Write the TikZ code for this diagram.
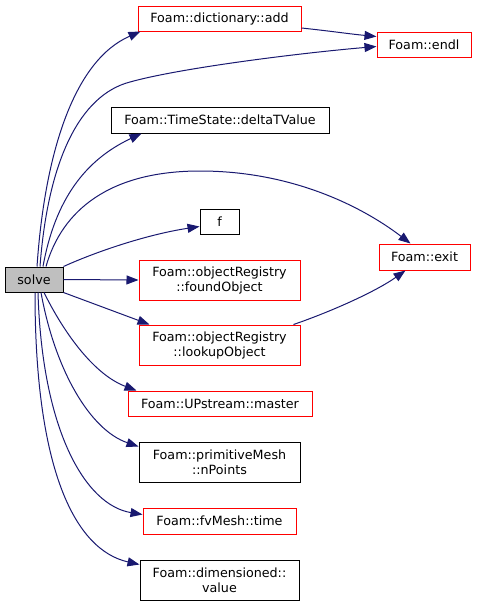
\documentclass[tikz,border=0pt]{standalone}
\usepackage{fontspec}
\setmainfont{DejaVu Sans}
\usetikzlibrary{arrows.meta}
\definecolor{edgecol}{HTML}{191970}
\definecolor{solvefill}{HTML}{BFBFBF}
\begin{document}
\begin{tikzpicture}[x=1pt,y=-1pt,
  box/.style={draw, line width=1pt, inner sep=0pt, align=center,
    font=\fontsize{12.7}{15}\selectfont, text=black},
  blackbox/.style={box, draw=black},
  redbox/.style={box, draw=red},
  e/.style={draw=edgecol, line width=1pt, -{Triangle[length=12pt,width=9pt]}}]
\useasboundingbox (0,0) rectangle (477,606);

\node[blackbox, fill=solvefill, minimum width=58pt, minimum height=25pt] (solve) at (34,279.5) {solve};
\node[redbox, minimum width=163pt, minimum height=25pt] (add) at (219.5,18.5) {Foam::dictionary::add};
\node[redbox, minimum width=94pt, minimum height=25pt] (endl) at (424,44.5) {Foam::endl};
\node[blackbox, minimum width=218pt, minimum height=26pt] (dt) at (220,120) {Foam::TimeState::deltaTValue};
\node[blackbox, minimum width=39pt, minimum height=25pt] (f) at (219.5,221.5) {f};
\node[redbox, minimum width=91pt, minimum height=26pt] (exit) at (424.5,257) {Foam::exit};
\node[redbox, minimum width=161pt, minimum height=40pt] (found) at (219.5,280) {Foam::objectRegistry\\::foundObject};
\node[redbox, minimum width=161pt, minimum height=40pt] (lookup) at (219.5,345) {Foam::objectRegistry\\::lookupObject};
\node[redbox, minimum width=184pt, minimum height=25pt] (master) at (220,403.5) {Foam::UPstream::master};
\node[blackbox, minimum width=161pt, minimum height=40pt] (np) at (219.5,462) {Foam::primitiveMesh\\::nPoints};
\node[redbox, minimum width=153pt, minimum height=26pt] (time) at (219.5,521) {Foam::fvMesh::time};
\node[blackbox, minimum width=159pt, minimum height=40pt] (value) at (219.5,580) {Foam::dimensioned::\\value};

% edges
\draw[e] ([xshift=3pt]solve.north) .. controls (45,150) and (75,60) .. ([xshift=3pt]add.south west);
\draw[e] ([xshift=6pt]solve.north) .. controls (48,160) and (80,95) .. (130,82)
         .. controls (180,68) and (300,53) .. ([yshift=-2pt]endl.west);
\draw[e] ([yshift=-9.5pt]add.east) .. controls (330,31) and (350,34) .. ([yshift=8pt]endl.west);
\draw[e] ([xshift=9pt]solve.north) .. controls (55,200) and (85,160) .. ([xshift=31pt]dt.south west);
\draw[e] ([xshift=12pt]solve.north) .. controls (62,210) and (110,171) .. (200,171)
         .. controls (290,171) and (360,205) .. ([xshift=-14pt]exit.north);
\draw[e] (solve.north east) .. controls (100,250) and (150,234) .. ([yshift=-5pt]f.west);
\draw[e] (solve.east) -- (found.west);
\draw[e] (solve.south east) -- ([xshift=11pt]lookup.north west);
\draw[e] ([xshift=-7pt]lookup.north east) .. controls (330,312) and (375,292) .. ([xshift=-19pt]exit.south);
\draw[e] ([xshift=10pt]solve.south) .. controls (65,335) and (95,375) .. ([xshift=9pt]master.north west);
\draw[e] ([xshift=7pt]solve.south) .. controls (55,370) and (90,430) .. ([yshift=-5pt]np.north west);
\draw[e] ([xshift=4pt]solve.south) .. controls (42,430) and (85,505) .. ([yshift=-7pt]time.north west);
\draw[e] ([xshift=1pt]solve.south) .. controls (35,470) and (75,550) .. ([yshift=-5pt]value.north west);
\end{tikzpicture}
\end{document}
